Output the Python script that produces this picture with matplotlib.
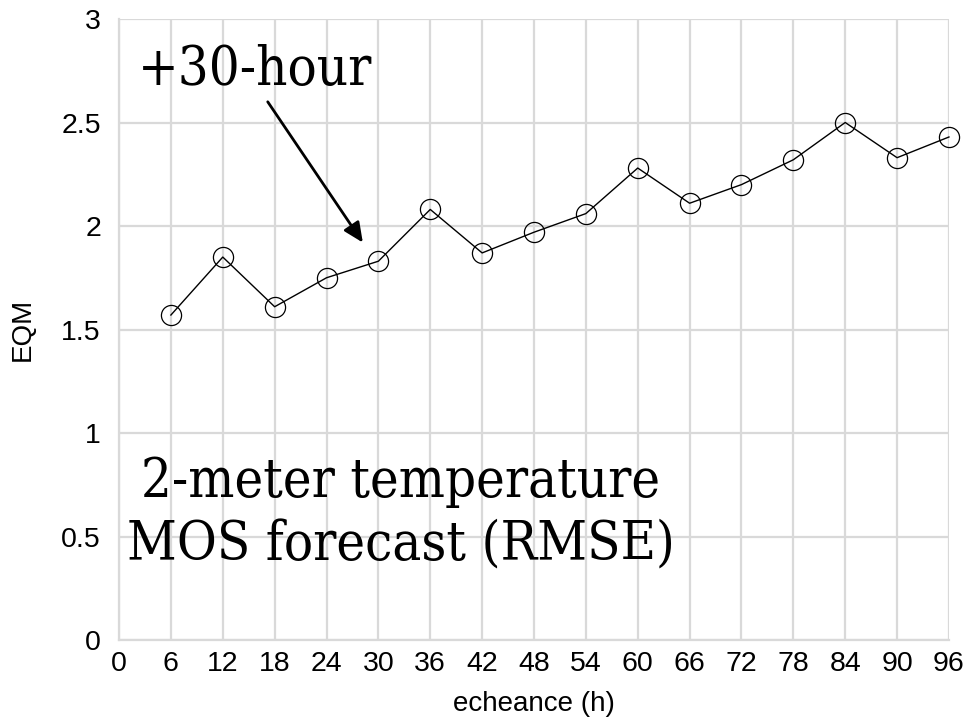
import matplotlib.pyplot as plt

# forecast lead times (hours) and RMSE of the 2 m temperature MOS
echeance = [6, 12, 18, 24, 30, 36, 42, 48, 54, 60, 66, 72, 78, 84, 90, 96]
eqm = [1.57, 1.85, 1.61, 1.75, 1.83, 2.08, 1.87, 1.97, 2.06, 2.28, 2.11, 2.20, 2.32, 2.50, 2.33, 2.43]

xticks = list(range(0, 97, 6))
yticks = [0, 0.5, 1, 1.5, 2, 2.5, 3]
ytick_labels = ["0", "0.5", "1", "1.5", "2", "2.5", "3"]

grid_color = "#d9d9d9"
sans = "Liberation Sans"
serif = "DejaVu Serif"

fig = plt.figure(figsize=(9.71, 7.25), dpi=100)
ax = fig.add_axes([0.1226, 0.1172, 0.8547, 0.8566])

ax.plot(echeance, eqm, color="black", linewidth=1.0, marker="o",
        markersize=14.5, markerfacecolor="none", markeredgecolor="black",
        markeredgewidth=0.9, zorder=3, clip_on=False)

ax.set_xlim(0, 96)
ax.set_ylim(0, 3)
ax.set_xticks(xticks)
ax.set_yticks(yticks)
ax.set_yticklabels(ytick_labels)
ax.grid(True, color=grid_color, linewidth=1.6)
ax.set_axisbelow(True)
for side in ["top", "right"]:
    ax.spines[side].set_visible(False)
for side in ["left", "bottom"]:
    ax.spines[side].set_color(grid_color)
    ax.spines[side].set_linewidth(1.6)
ax.tick_params(axis="y", length=0, pad=13, labelsize=20.5)
ax.tick_params(axis="x", length=0, pad=8, labelsize=20.5)
for lab in ax.get_xticklabels() + ax.get_yticklabels():
    lab.set_fontfamily(sans)

ax.set_xlabel("echeance (h)", fontsize=20, family=sans, labelpad=10)
ax.set_ylabel("EQM", fontsize=20, family=sans, labelpad=18)

# annotation pointing at the +30 h point
ax.annotate("", xy=(28.2, 1.92), xytext=(17.2, 2.60),
            arrowprops=dict(arrowstyle="-|>,head_length=1.2,head_width=0.55",
                            color="black", linewidth=2.0, shrinkA=0, shrinkB=0))
ax.text(15.7, 2.68, "+30-hour", family=serif, fontstretch="condensed",
        fontsize=39, ha="center", va="baseline")

ax.text(32.6, 0.69, "2-meter temperature", family=serif, fontstretch="condensed",
        fontsize=39, ha="center", va="baseline")
ax.text(32.6, 0.385, "MOS forecast (RMSE)", family=serif, fontstretch="condensed",
        fontsize=39, ha="center", va="baseline")

fig.savefig("out.png", dpi=100)
